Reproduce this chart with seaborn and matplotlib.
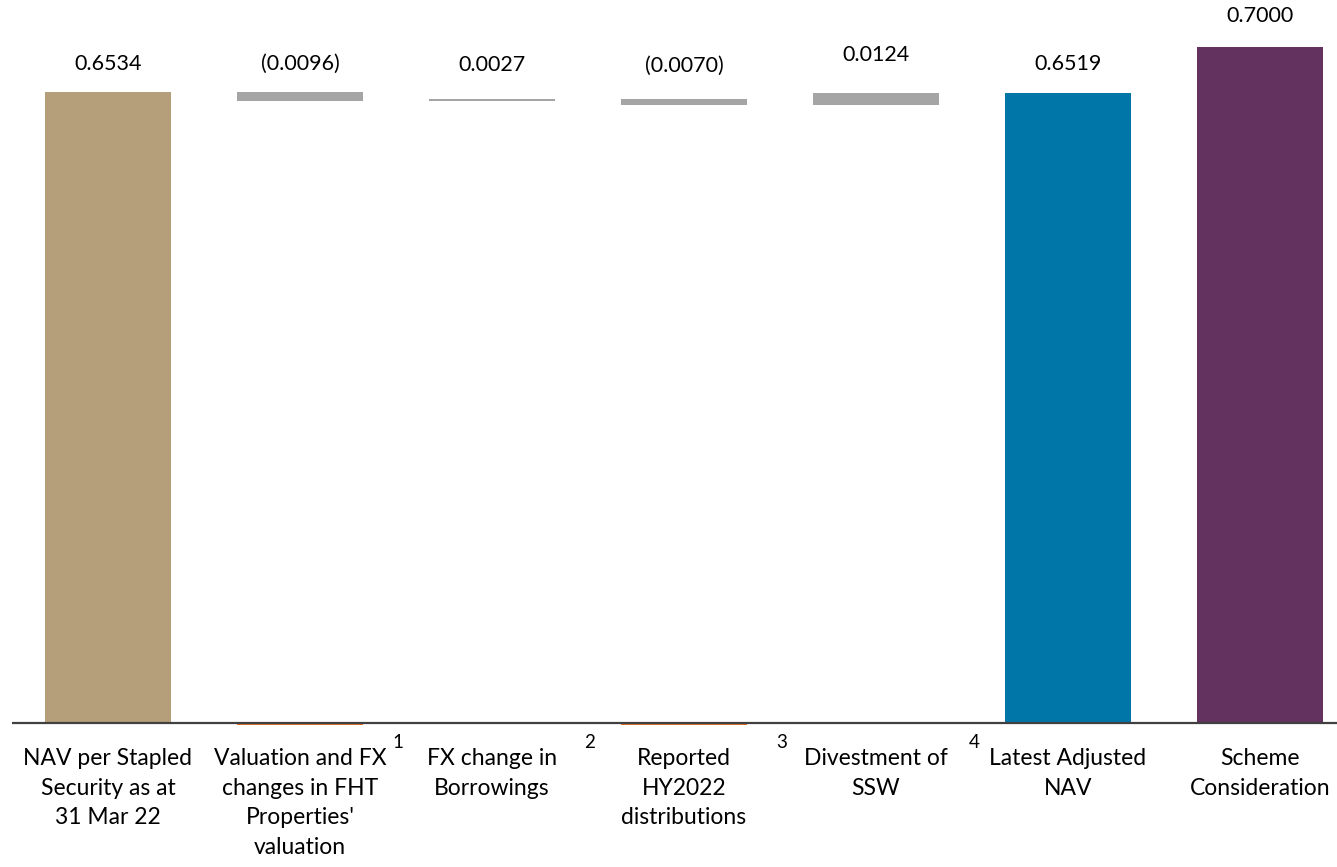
import matplotlib
matplotlib.use("Agg")
import matplotlib.pyplot as plt
import seaborn as sns
import numpy as np
import pandas as pd

# Bridge from reported NAV to the scheme consideration (S$ per stapled security)
categories = [
    "NAV per Stapled\nSecurity as at\n31 Mar 22",
    "Valuation and FX\nchanges in FHT\nProperties'\nvaluation",
    "FX change in\nBorrowings",
    "Reported\nHY2022\ndistributions",
    "Divestment of\nSSW",
    "Latest Adjusted\nNAV",
    "Scheme\nConsideration",
]
footnotes = ["", "1", "2", "3", "4", "", ""]
values = [0.6534, -0.0096, 0.0027, -0.0070, 0.0124, 0.6519, 0.7000]
is_total = [True, False, False, False, False, True, True]

total_colors = {0: "#B49F7A", 5: "#0076A8", 6: "#64325F"}
step_color = "#A5A5A5"
neg_marker_color = "#E2722B"

sns.set_theme(style="white")
plt.rcParams["font.family"] = ["Lato", "DejaVu Sans"]

fig = plt.figure(figsize=(13.37, 8.67), dpi=100)
ax = fig.add_axes([12 / 1337, 0.1628, 1344 / 1337, 0.8053])

# Totals drawn as full bars from zero
total_heights = [v if t else 0.0 for v, t in zip(values, is_total)]
df = pd.DataFrame({"cat": categories, "val": total_heights})
palette = [total_colors.get(i, step_color) for i in range(len(categories))]
sns.barplot(data=df, x="cat", y="val", hue="cat", palette=palette, width=0.66,
            saturation=1, legend=False, linewidth=0, ax=ax,
            order=categories, hue_order=categories)

# Floating steps between totals
running = values[0]
tops = []
for i, (v, t) in enumerate(zip(values, is_total)):
    if t:
        running = v
        tops.append(v)
        continue
    start = running
    end = running + v
    ax.bar(i, end - start, bottom=start, width=0.66, color=step_color, linewidth=0)
    tops.append(max(start, end))
    running = end
    if v < 0:
        ax.bar(i, -0.0016, bottom=0, width=0.66, color=neg_marker_color, linewidth=0)

ax.axhline(0, color="#404040", linewidth=1.6, zorder=5)

def fmt(v):
    return f"({abs(v):.4f})" if v < 0 else f"{v:.4f}"

label_offsets = [28, 28, 34, 33, 38, 29, 31]
for i, (v, top) in enumerate(zip(values, tops)):
    ax.annotate(fmt(v), xy=(i, top), xytext=(0, label_offsets[i] * 0.72),
                textcoords="offset points", ha="center", va="center",
                fontsize=15.5, color="#000000")

for i, fn in enumerate(footnotes):
    if fn:
        ax.annotate(fn, xy=(i + 0.51, 0), xytext=(0, -14), textcoords="offset points",
                    ha="center", va="center", fontsize=13.5, color="#000000",
                    annotation_clip=False)

ax.set_xlim(-0.5, 6.5)
ax.set_ylim(-0.003, 0.72)
ax.set_xlabel("")
ax.set_ylabel("")
ax.set_yticks([])
ax.tick_params(axis="x", length=0, pad=16, labelsize=16.5, labelcolor="#000000")
plt.setp(ax.get_xticklabels(), linespacing=1.5)
for s in ax.spines.values():
    s.set_visible(False)

fig.savefig("out.png", dpi=100)
